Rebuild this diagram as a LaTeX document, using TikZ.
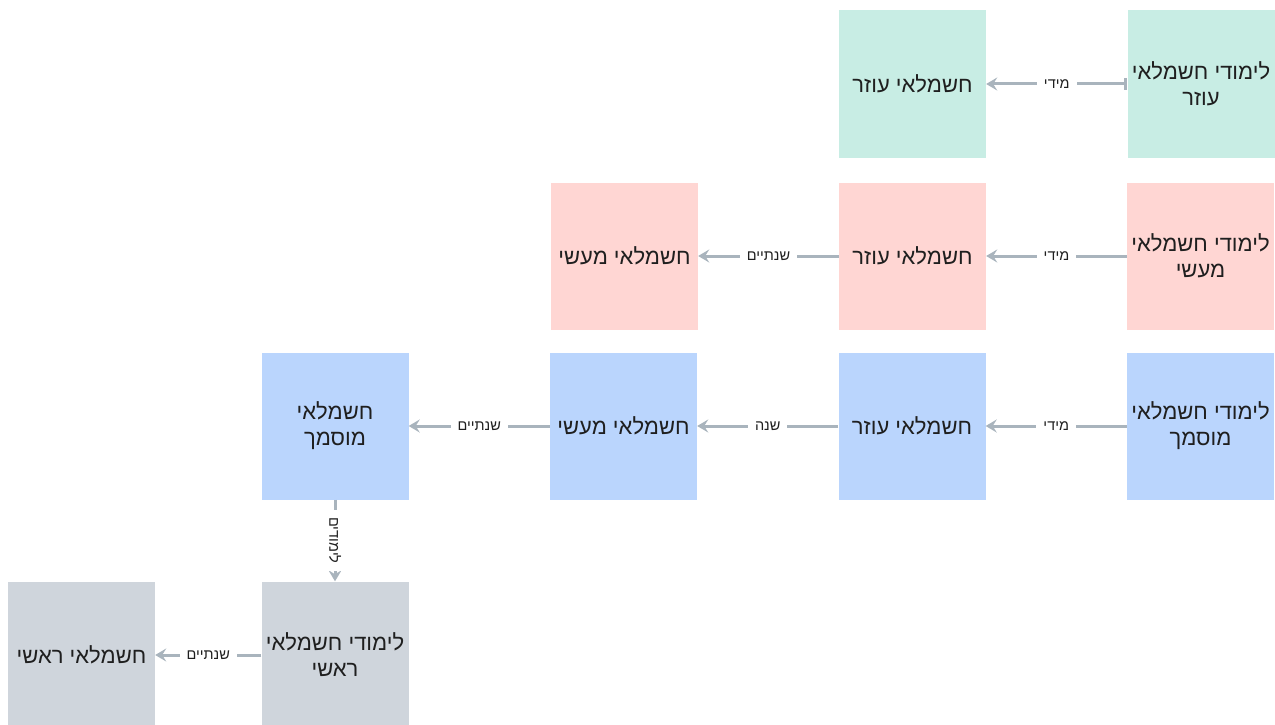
\documentclass[tikz,border=0pt]{standalone}
\usepackage{fontspec}
\usetikzlibrary{arrows.meta}
\TeXXeTstate=1
\newfontfamily\hebfont[Script=Hebrew]{Liberation Sans}
\newcommand{\hebtxt}[1]{\beginR #1\endR}
\definecolor{greenbox}{HTML}{C8EDE4}
\definecolor{pinkbox}{HTML}{FFD6D3}
\definecolor{bluebox}{HTML}{BAD5FD}
\definecolor{greybox}{HTML}{CFD5DC}
\definecolor{linkgrey}{HTML}{A9B4BD}
\definecolor{txtgrey}{HTML}{1F1F1F}

\begin{document}
\begin{tikzpicture}
     [
     x=1pt, y=-1pt,
     box/.style={minimum width=147pt, minimum height=147pt, inner sep=0pt,
          align=center, text=txtgrey, font=\hebfont\fontsize{22}{26}\selectfont},
     link/.style={draw=linkgrey, line width=3pt, -{Stealth[length=11pt,width=13pt,inset=4pt]}},
     lbl/.style={fill=white, inner xsep=7pt, inner ysep=4pt, text=txtgrey, font=\hebfont\fontsize{14.5}{17}\selectfont}
     ]
     \useasboundingbox (0,0) rectangle (1275,725);
     % row 1 - green
     \node[box, fill=greenbox] (a1) at (912.5,84) {\hebtxt{חשמלאי עוזר}};
     \node[box, fill=greenbox] (b1) at (1201,84) {\hebtxt{לימודי חשמלאי}\\\hebtxt{עוזר}};
     % row 2 - pink
     \node[box, fill=pinkbox] (a2) at (624.5,256) {\hebtxt{חשמלאי מעשי}};
     \node[box, fill=pinkbox] (b2) at (912.5,256) {\hebtxt{חשמלאי עוזר}};
     \node[box, fill=pinkbox] (c2) at (1200.5,256) {\hebtxt{לימודי חשמלאי}\\\hebtxt{מעשי}};
     % row 3 - blue
     \node[box, fill=bluebox] (a3) at (335,426) {\hebtxt{חשמלאי}\\\hebtxt{מוסמך}};
     \node[box, fill=bluebox] (b3) at (623.5,426) {\hebtxt{חשמלאי מעשי}};
     \node[box, fill=bluebox] (c3) at (912,426) {\hebtxt{חשמלאי עוזר}};
     \node[box, fill=bluebox] (d3) at (1200.5,426) {\hebtxt{לימודי חשמלאי}\\\hebtxt{מוסמך}};
     % row 4 - grey
     \node[box, fill=greybox] (a4) at (81.5,655) {\hebtxt{חשמלאי ראשי}};
     \node[box, fill=greybox] (b4) at (335,655) {\hebtxt{לימודי חשמלאי}\\\hebtxt{ראשי}};

     \draw[link, {Bar[width=12pt]}-{Stealth[length=11pt,width=13pt,inset=4pt]}] (b1) -- node[lbl] {\hebtxt{מידי}} (a1);
     \draw[link] (c2) -- node[lbl] {\hebtxt{מידי}} (b2);
     \draw[link] (b2) -- node[lbl] {\hebtxt{שנתיים}} (a2);
     \draw[link] (d3) -- node[lbl] {\hebtxt{מידי}} (c3);
     \draw[link] (c3) -- node[lbl] {\hebtxt{שנה}} (b3);
     \draw[link] (b3) -- node[lbl] {\hebtxt{שנתיים}} (a3);
     \draw[link] (a3) -- node[lbl, rotate=-90] {\hebtxt{לימודים}} (b4);
     \draw[link] (b4) -- node[lbl] {\hebtxt{שנתיים}} (a4);
\end{tikzpicture}
\end{document}
